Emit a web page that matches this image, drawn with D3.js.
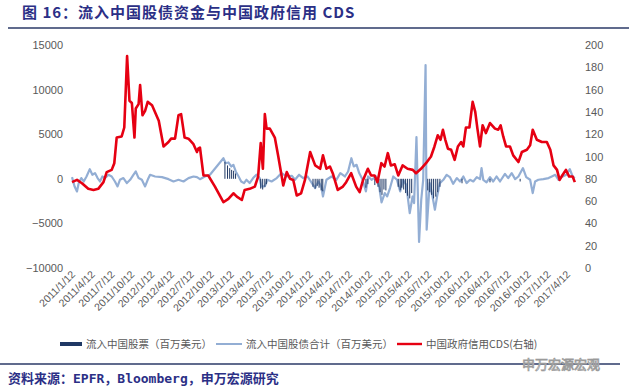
<!DOCTYPE html>
<html><head><meta charset="utf-8">
<script src="https://cdn.jsdelivr.net/npm/d3@7"></script>
<style>
html,body{margin:0;padding:0;background:#fff;}
svg{display:block;}
</style></head>
<body>
<script>
const titleText = "图 16：流入中国股债资金与中国政府信用 CDS";
const sourceText = "资料来源：EPFR，Bloomberg，申万宏源研究";
const legendLabels = ["流入中国股票（百万美元）", "流入中国股债合计（百万美元）", "中国政府信用CDS(右轴)"];
const leftTicks = [-10000, -5000, 0, 5000, 10000, 15000];
const rightTicks = [0, 20, 40, 60, 80, 100, 120, 140, 160, 180, 200];
const xTickLabels = ["2011/1/12","2011/4/12","2011/7/12","2011/10/12","2012/1/12","2012/4/12","2012/7/12","2012/10/12","2013/1/12","2013/4/12","2013/7/12","2013/10/12","2014/1/12","2014/4/12","2014/7/12","2014/10/12","2015/1/12","2015/4/12","2015/7/12","2015/10/12","2016/1/12","2016/4/12","2016/7/12","2016/10/12","2017/1/12","2017/4/12"];

const cdsDates = ["2011-01-12","2011-02-04","2011-02-27","2011-03-28","2011-04-21","2011-05-13","2011-06-06","2011-06-21","2011-07-14","2011-07-26","2011-08-06","2011-08-29","2011-09-10","2011-09-23","2011-10-04","2011-10-15","2011-10-27","2011-11-02","2011-11-15","2011-11-22","2011-12-03","2011-12-15","2011-12-27","2012-01-16","2012-02-16","2012-03-09","2012-04-01","2012-04-13","2012-05-01","2012-05-17","2012-05-29","2012-06-14","2012-07-02","2012-07-25","2012-08-10","2012-08-16","2012-08-24","2012-09-09","2012-10-01","2012-11-01","2012-12-10","2013-01-02","2013-01-25","2013-02-10","2013-03-05","2013-03-18","2013-04-10","2013-05-04","2013-05-19","2013-05-31","2013-06-10","2013-06-19","2013-06-27","2013-07-12","2013-08-04","2013-08-20","2013-09-12","2013-09-28","2013-10-13","2013-10-28","2013-11-13","2013-12-03","2013-12-21","2014-01-14","2014-02-06","2014-03-01","2014-03-14","2014-03-30","2014-04-15","2014-04-28","2014-05-21","2014-06-14","2014-06-29","2014-07-22","2014-08-14","2014-08-30","2014-09-15","2014-10-07","2014-10-22","2014-11-07","2014-11-20","2014-12-08","2014-12-23","2015-01-07","2015-01-21","2015-02-08","2015-02-24","2015-03-16","2015-04-08","2015-05-02","2015-05-17","2015-06-09","2015-07-02","2015-07-25","2015-08-10","2015-08-25","2015-09-07","2015-09-18","2015-09-29","2015-10-11","2015-10-26","2015-11-11","2015-11-26","2015-12-11","2015-12-21","2016-01-02","2016-01-18","2016-02-02","2016-02-14","2016-02-24","2016-03-07","2016-03-19","2016-04-03","2016-04-22","2016-05-15","2016-05-30","2016-06-10","2016-06-22","2016-07-05","2016-07-23","2016-08-07","2016-08-31","2016-09-16","2016-10-09","2016-10-24","2016-11-05","2016-11-24","2016-12-17","2017-01-09","2017-01-25","2017-02-09","2017-02-25","2017-03-09","2017-03-18","2017-04-07","2017-04-22","2017-05-08","2017-05-18"];
const cdsValues = [77,79,76,71,70,71,77,86,88,94,117,118,126,190,150,148,117,143,147,164,137,141,149,146,132,109,113,116,116,137,138,117,116,111,104,107,108,83,83,73,59,62,67,64,61,70,71,73,82,112,89,138,125,125,117,100,74,86,80,79,65,67,79,104,92,89,101,89,91,85,70,73,77,85,73,68,79,89,83,83,77,94,91,103,92,93,83,92,89,88,85,89,94,100,109,119,115,124,115,107,106,97,109,113,109,126,126,149,140,125,109,128,121,130,125,124,128,118,109,109,101,95,104,106,110,124,115,113,113,106,92,88,79,82,88,82,82,77];

const flowDates = ["2011-01-12","2011-01-24","2011-02-04","2011-02-12","2011-02-24","2011-03-07","2011-03-20","2011-04-04","2011-04-16","2011-04-28","2011-05-10","2011-05-21","2011-06-01","2011-06-13","2011-06-29","2011-07-14","2011-07-29","2011-08-10","2011-08-21","2011-09-06","2011-09-22","2011-10-07","2011-10-22","2011-11-02","2011-11-15","2011-11-30","2011-12-15","2011-12-27","2012-01-07","2012-01-30","2012-03-02","2012-04-01","2012-04-24","2012-05-17","2012-06-09","2012-07-02","2012-07-25","2012-08-10","2012-08-24","2012-09-16","2012-10-09","2012-12-10","2012-12-21","2013-01-02","2013-01-15","2013-01-25","2013-02-05","2013-02-18","2013-03-02","2013-03-15","2013-03-26","2013-04-10","2013-04-26","2013-05-11","2013-05-26","2013-06-03","2013-06-19","2013-07-01","2013-07-20","2013-08-13","2013-09-04","2013-09-28","2013-10-21","2013-11-05","2013-11-24","2013-12-13","2014-01-02","2014-01-22","2014-02-06","2014-02-21","2014-03-06","2014-03-14","2014-03-30","2014-04-22","2014-05-15","2014-06-02","2014-06-23","2014-07-08","2014-07-23","2014-08-03","2014-08-16","2014-08-28","2014-09-13","2014-09-28","2014-10-08","2014-10-24","2014-11-14","2014-11-29","2014-12-09","2014-12-24","2015-01-04","2015-01-17","2015-02-01","2015-02-18","2015-03-05","2015-03-18","2015-04-02","2015-04-18","2015-05-01","2015-05-08","2015-05-19","2015-05-31","2015-06-10","2015-06-19","2015-06-30","2015-07-05","2015-07-19","2015-08-01","2015-08-12","2015-08-22","2015-09-04","2015-09-20","2015-10-05","2015-10-20","2015-11-04","2015-11-21","2015-12-06","2015-12-21","2016-01-05","2016-01-21","2016-02-05","2016-02-21","2016-03-07","2016-03-14","2016-03-22","2016-04-06","2016-04-22","2016-05-07","2016-05-22","2016-06-07","2016-06-30","2016-07-15","2016-07-31","2016-08-16","2016-08-31","2016-09-21","2016-10-06","2016-10-24","2016-11-05","2016-11-16","2016-12-01","2016-12-24","2017-01-17","2017-02-01","2017-02-17","2017-03-04","2017-03-18","2017-04-09","2017-04-25","2017-05-08","2017-05-18"];
const flowValues = [190,-860,-1420,-480,80,-300,260,1080,450,640,80,-300,260,80,450,260,-300,-860,-110,80,-480,-110,450,820,80,-110,-860,-110,450,260,190,-40,-300,-110,-300,80,260,190,-40,260,450,2310,1750,1830,1380,1570,820,260,-300,-480,-110,-480,80,450,80,-860,-860,-110,-300,80,640,260,340,-110,450,80,260,-480,-1040,-300,-860,-1980,-110,260,-110,640,260,820,2310,1380,1570,640,-110,-1420,260,-110,260,-1040,-2650,-1600,-1980,-1040,260,-110,-1420,-110,-670,-3840,-1980,-2720,4670,-7080,-2350,-110,12760,-5710,-480,-1980,-3470,-1980,-480,-110,450,190,-560,80,-300,260,-480,-110,-300,190,-40,1200,-110,-390,190,-300,260,-300,560,80,640,-40,260,1200,190,-110,-1600,-300,-110,-40,80,260,450,-110,190,450,1080,260,80];

const equityDates = ["2012-12-17","2012-12-29","2013-01-08","2013-01-17","2013-01-26","2013-02-04","2013-05-31","2013-06-09","2013-06-19","2013-06-26","2014-01-27","2014-02-06","2014-02-15","2014-02-24","2014-03-06","2014-03-13","2014-09-28","2014-10-07","2014-11-08","2014-11-23","2014-12-02","2014-12-11","2014-12-20","2014-12-29","2015-02-24","2015-03-05","2015-03-12","2015-03-21","2015-03-30","2015-04-08","2015-04-18","2015-04-27","2015-07-10","2015-07-19","2015-07-28","2015-08-06","2015-08-16","2015-08-25","2015-09-04","2015-12-15","2016-04-22","2016-09-08"];
const equityValues = [1900,1500,1200,1000,900,600,-1100,-1200,-900,-600,-900,-1100,-800,-1000,-1300,-1400,-1000,-600,-700,-900,-1500,-1800,-1200,-1300,-900,-1300,-1000,-1200,-1600,-1900,-2200,-1600,-1300,-1500,-1800,-2200,-2000,-1500,-900,-500,-400,-300];

const W = 629, H = 392;
const parse = d3.timeParse("%Y-%m-%d");
const parseTick = d3.timeParse("%Y/%m/%d");

const svg = d3.select("body").append("svg").attr("width", W).attr("height", H);
const CJK = "'Noto Sans CJK SC','Noto Sans',sans-serif";

// Title
svg.append("text").attr("x", 22).attr("y", 18).text(titleText)
  .attr("font-family", CJK).attr("font-weight", "bold").attr("font-size", 15)
  .attr("letter-spacing", 1).attr("fill", "#2b2f86");
svg.append("line").attr("x1", 8).attr("x2", 629).attr("y1", 28).attr("y2", 28)
  .attr("stroke", "#2b3a67").attr("stroke-width", 1.6);

const x = d3.scaleTime().domain([parseTick(xTickLabels[0]), parseTick(xTickLabels[xTickLabels.length-1])]).range([72, 567]);
const yL = d3.scaleLinear().domain([-10000, 15000]).range([268, 45]);
const yR = d3.scaleLinear().domain([0, 200]).range([268, 45]);

// Left axis
const axL = svg.append("g").attr("transform", "translate(63,0)")
  .call(d3.axisLeft(yL).tickValues(leftTicks).tickSize(0).tickPadding(0).tickFormat(d3.format("d")));
axL.select(".domain").remove();
axL.selectAll("text").attr("font-family", "'Liberation Sans',Arial,sans-serif").attr("font-size", 11).attr("fill", "#595959");

// Right axis
const axR = svg.append("g").attr("transform", "translate(585,0)")
  .call(d3.axisRight(yR).tickValues(rightTicks).tickSize(0).tickPadding(0));
axR.select(".domain").remove();
axR.selectAll("text").attr("font-family", "'Liberation Sans',Arial,sans-serif").attr("font-size", 11).attr("fill", "#595959");

// X tick labels
const axX = svg.append("g");
axX.selectAll("text").data(xTickLabels).join("text")
  .attr("transform", d => `translate(${x(parseTick(d)) + 4},${275}) rotate(-45)`)
  .attr("text-anchor", "end")
  .attr("font-family", "'Liberation Sans',Arial,sans-serif").attr("font-size", 10.5).attr("fill", "#595959")
  .text(d => d);

// Flow line
const flow = flowDates.map((d, i) => ({d: parse(d), v: flowValues[i]}));
svg.append("path").datum(flow)
  .attr("d", d3.line().x(p => x(p.d)).y(p => yL(p.v)))
  .attr("fill", "none").attr("stroke", "#93aed4").attr("stroke-width", 2.2).attr("stroke-linejoin", "round");

// Equity bars
const eq = equityDates.map((d, i) => ({d: parse(d), v: equityValues[i]}));
svg.append("g").selectAll("rect").data(eq).join("rect")
  .attr("x", p => x(p.d) - 0.5).attr("width", 1)
  .attr("y", p => Math.min(yL(p.v), yL(0))).attr("height", p => Math.abs(yL(p.v) - yL(0)))
  .attr("fill", "#1f3864");

// CDS line
const cds = cdsDates.map((d, i) => ({d: parse(d), v: cdsValues[i]}));
svg.append("path").datum(cds)
  .attr("d", d3.line().x(p => x(p.d)).y(p => yR(p.v)))
  .attr("fill", "none").attr("stroke", "#e60012").attr("stroke-width", 2.6).attr("stroke-linejoin", "round");

// Legend
const lg = svg.append("g");
const legendItems = [
  {label: legendLabels[0], color: "#1f3864", x0: 60, w: 22, sw: 4},
  {label: legendLabels[1], color: "#93aed4", x0: 216, w: 26, sw: 2},
  {label: legendLabels[2], color: "#e60012", x0: 397, w: 25, sw: 2.4}
];
legendItems.forEach(it => {
  lg.append("line").attr("x1", it.x0).attr("x2", it.x0 + it.w).attr("y1", 344).attr("y2", 344)
    .attr("stroke", it.color).attr("stroke-width", it.sw);
  lg.append("text").attr("x", it.x0 + it.w + 4).attr("y", 348).text(it.label)
    .attr("font-family", CJK).attr("font-size", 10.5).attr("fill", "#595959");
});

// Bottom line
svg.append("line").attr("x1", 0).attr("x2", 620).attr("y1", 364).attr("y2", 364)
  .attr("stroke", "#2b3a67").attr("stroke-width", 1.6);

// Source
svg.append("text").attr("x", 8).attr("y", 383).text(sourceText)
  .attr("font-family", "'DejaVu Sans Mono','Noto Sans CJK SC',monospace").attr("font-weight", "bold").attr("font-size", 13)
  .attr("fill", "#2b2f86");

// Watermark
svg.append("text").attr("x", 600).attr("y", 369).attr("text-anchor", "end").text("申万宏源宏观")
  .attr("font-family", CJK).attr("font-size", 13).attr("fill", "#fff")
  .attr("stroke", "#9a9a9a").attr("stroke-width", 0.8);
</script>
</body></html>
